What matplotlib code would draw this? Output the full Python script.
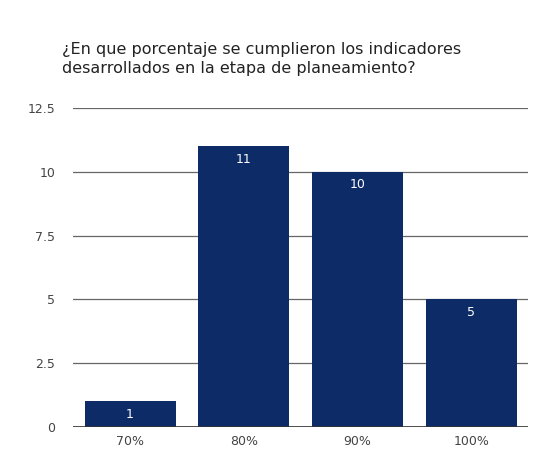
import matplotlib.pyplot as plt
import numpy as np

categories = ["70%", "80%", "90%", "100%"]
counts = [1, 11, 10, 5]
yticks = [0, 2.5, 5, 7.5, 10, 12.5]
ytick_labels = ["0", "2.5", "5", "7.5", "10", "12.5"]

bar_color = "#0d2b66"

fig = plt.figure(figsize=(5.34, 4.54), dpi=100)
ax = fig.add_axes([0.137, 0.0595, 0.852, 0.7025])

x = np.arange(len(categories))
bars = ax.bar(x, counts, width=0.8, color=bar_color, zorder=3)

# value labels sit just inside the top of each bar
for b, v in zip(bars, counts):
    ax.text(b.get_x() + b.get_width() / 2, v - 0.25, str(v),
            ha="center", va="top", color="white", fontsize=9,
            fontweight="medium", zorder=4)

ax.set_xlim(-0.5, len(categories) - 0.5)
ax.set_ylim(0, 12.5)
ax.set_xticks(x)
ax.set_xticklabels(categories, color="#444444", fontsize=9)
ax.set_yticks(yticks)
ax.set_yticklabels(ytick_labels, color="#444444", fontsize=9)
ax.tick_params(length=0, pad=6)
ax.tick_params(axis="y", pad=13)

ax.yaxis.grid(True, color="#666666", linewidth=0.9, zorder=0)
ax.axhline(0, color="#333333", linewidth=1.2, zorder=5)
for s in ax.spines.values():
    s.set_visible(False)

fig.text(0.116, 0.870,
         "¿En que porcentaje se cumplieron los indicadores\n"
         "desarrollados en la etapa de planeamiento?",
         ha="left", va="center", fontsize=11.5, color="#222222",
         linespacing=1.3)

fig.savefig("out.png", dpi=100)
